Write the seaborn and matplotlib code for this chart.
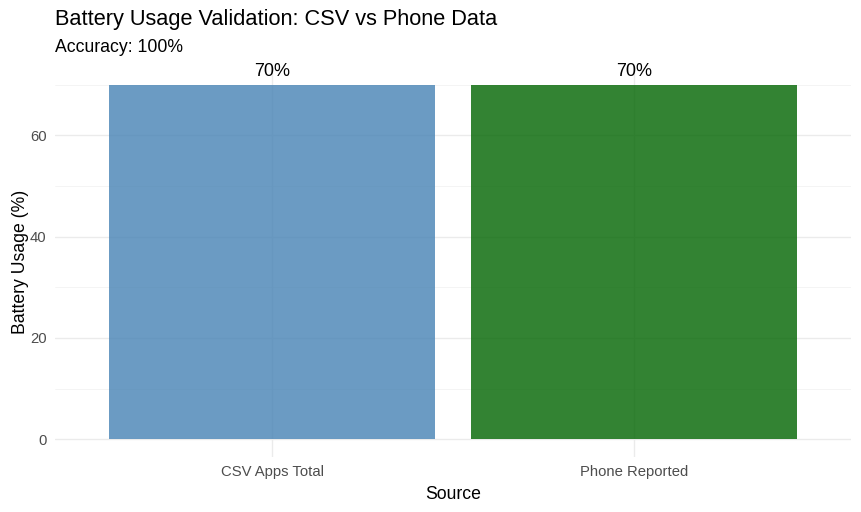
import pandas as pd
import seaborn as sns
import matplotlib.pyplot as plt

sources = ['CSV Apps Total', 'Phone Reported']
usage = [70, 70]
bar_colors = ['#4682B4', '#006400']

df = pd.DataFrame({'Source': sources, 'Usage': usage})

sns.set_theme(style='white')
plt.rcParams['font.family'] = ['Liberation Sans', 'DejaVu Sans']

fig = plt.figure(figsize=(8.61, 5.12), dpi=100)
ax = fig.add_axes([55 / 861, 1 - 457 / 512, 796 / 861, 390 / 512])

# grid like theme_minimal
for y in [0, 20, 40, 60]:
    ax.axhline(y, color='#EBEBEB', lw=1.0, zorder=0)
for y in [10, 30, 50, 70]:
    ax.axhline(y, color='#F3F3F3', lw=0.6, zorder=0)
for x in [0, 1]:
    ax.axvline(x, color='#EBEBEB', lw=1.0, zorder=0)

sns.barplot(data=df, x='Source', y='Usage', hue='Source', palette=bar_colors,
            width=0.9, alpha=0.8, legend=False, ax=ax, zorder=2,
            saturation=1, linewidth=0)

for i, v in enumerate(usage):
    ax.text(i, v + 1.0, f'{v}%', ha='center', va='bottom', fontsize=13,
            color='black')

ax.set_xlim(-0.6, 1.6)
ax.set_ylim(-3.5, 73.5)
ax.set_yticks([0, 20, 40, 60])
for s in ax.spines.values():
    s.set_visible(False)
ax.tick_params(axis='both', length=0, labelsize=10.7, labelcolor='#4D4D4D',
               pad=6)
ax.set_xlabel('Source', fontsize=12.7, color='black', labelpad=5)
ax.set_ylabel('Battery Usage (%)', fontsize=12.7, color='black', labelpad=0.5)

fig.text(55 / 861, 1 - 20 / 512, 'Battery Usage Validation: CSV vs Phone Data',
         fontsize=15.7, va='center', ha='left', color='black')
fig.text(55 / 861, 1 - 47 / 512, 'Accuracy: 100%', fontsize=12.7,
         va='center', ha='left', color='black')

fig.savefig('out.png', dpi=100)
